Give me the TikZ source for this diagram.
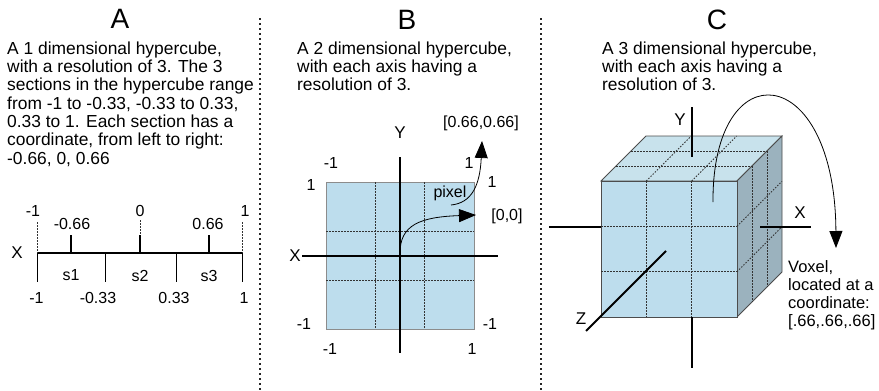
\documentclass[tikz,border=0pt]{standalone}
\usepackage{fontspec}
\setmainfont{Liberation Sans}
\usetikzlibrary{arrows.meta}
\definecolor{faceblue}{RGB}{189,221,237}
\definecolor{topblue}{RGB}{200,226,236}
\definecolor{sideblue}{RGB}{155,178,190}

\begin{document}
\begin{tikzpicture}[x=1pt,y=-1pt,
  ttl/.style={font=\fontsize{28}{28}\selectfont,inner sep=0pt,anchor=base},
  txt/.style={font=\fontsize{17.4}{18.3}\selectfont,align=left,anchor=north west,inner sep=0pt},
  lbl/.style={font=\fontsize{16}{16}\selectfont,inner sep=0pt},
  axlbl/.style={font=\fontsize{17}{17}\selectfont,inner sep=0pt},
  axisline/.style={line width=2pt},
  sep/.style={draw=black!85,line width=2.5pt,dash pattern=on 2pt off 3pt},
  gridln/.style={draw=black!80,line width=.8pt,dash pattern=on 1.5pt off 1.5pt},
  cubeedge/.style={draw=black!70,line width=.8pt},
  tip/.style={-{Triangle[length=17pt,width=13pt]}}
]
\useasboundingbox (0,0) rectangle (879,391);
% separators
\draw[sep] (260,18) -- (260,391);
\draw[sep] (541,18) -- (541,391);

% A: one axis
\node[ttl] (ta) at (120,28.5) {A};
\node[txt] (da) at (7,41.5) {A 1 dimensional hypercube,\\with a resolution of 3. The 3\\sections in the hypercube range\\from -1 to -0.33, -0.33 to 0.33,\\0.33 to 1. Each section has a\\coordinate, from left to right:\\-0.66, 0, 0.66};
\node[axlbl] (xa) at (17,253) {X};
\draw[axisline] (37,253) -- (242,253);
\foreach \x in {71,140,209} \draw[axisline] (\x,235) -- (\x,253);
\draw[gridln] (37,222) -- (37,253) (242,222) -- (242,253) (140,220) -- (140,235);
\foreach \x in {37,105,176,242} \draw[line width=.8pt] (\x,253) -- (\x,282);
\node[lbl] (am1) at (33,211) {-1};
\node[lbl] (a0) at (140,211) {0};
\node[lbl] (ap1) at (245,211) {1};
\node[lbl] (am66) at (72,223.5) {-0.66};
\node[lbl] (ap66) at (208,223.5) {0.66};
\foreach \x/\s in {71/s1,140/s2,209/s3} \node[lbl] (\s) at (\x,275.5) {\s};
\foreach \x/\v [count=\i] in {36.5/-1,98/-0.33,174/0.33,244/1} \node[lbl] (b\i) at (\x,298) {\v};

% B: two axes
\node[ttl] (tb) at (407,29) {B};
\node[txt] (db) at (297,41.5) {A 2 dimensional hypercube,\\with each axis having a\\resolution of 3.};
\draw[draw=black!45,fill=faceblue,line width=.8pt] (326,182) rectangle (474,329);
\foreach \x in {375,424} \draw[gridln] (\x,182) -- (\x,329);
\foreach \y in {231,280} \draw[gridln] (326,\y) -- (474,\y);
\draw[axisline] (302,256) -- (498,256);
\draw[axisline] (400,157) -- (400,353);
\node[axlbl] (xb) at (295,256) {X};
\node[axlbl] (yb) at (400,133) {Y};
\node[lbl] (c1) at (331,163) {-1};
\node[lbl] (c2) at (469,163) {1};
\node[lbl] (c3) at (311,185) {1};
\node[lbl] (c4) at (492,182) {1};
\node[lbl] (c5) at (304,324) {-1};
\node[lbl] (c6) at (490,324) {-1};
\node[lbl] (c7) at (330,349) {-1};
\node[lbl] (c8) at (472,349) {1};
\node[lbl] (pix) at (450,193) {pixel};
\node[lbl] (p66) at (481,123) {[0.66,0.66]};
\node[lbl] (p00) at (507,216) {[0,0]};
\coordinate (pxs) at (451,205);
\coordinate (pxt) at (482,141);
\coordinate (orig) at (400,253);
\coordinate (ort) at (476,215);
\draw[line width=.8pt,tip] (pxs) .. controls (472,203) and (480,185) .. (pxt);
\draw[line width=.8pt,tip] (orig) .. controls (400,225) and (420,217) .. (ort);

% C: three axes
\node[ttl] (tc) at (717,29) {C};
\node[txt] (dc) at (602,41.5) {A 3 dimensional hypercube,\\with each axis having a\\resolution of 3.};
\draw[axisline] (692,107) -- (692,157);
\draw[cubeedge,fill=topblue] (601,181) -- (737,181) -- (782,136) -- (646,136) -- cycle;
\draw[cubeedge,fill=sideblue] (737,181) -- (782,136) -- (782,272) -- (737,317) -- cycle;
\draw[cubeedge,fill=faceblue] (601,181) rectangle (737,317);
\foreach \x in {646.3,691.7} \draw[gridln] (\x,181) -- (\x,317);
\foreach \y in {226.3,271.7} \draw[gridln] (601,\y) -- (737,\y);
\draw[gridln] (616,166) -- (752,166) (631,151) -- (767,151);
\draw[gridln] (646.3,181) -- (691.3,136) (691.7,181) -- (736.7,136);
\draw[gridln] (752,166) -- (752,302) (767,151) -- (767,287);
\draw[gridln] (737,226.3) -- (782,181.3) (737,271.7) -- (782,226.7);
\draw[axisline] (692,107) -- (692,157);
\draw[axisline] (692,317) -- (692,368);
\draw[axisline] (549,227) -- (601,227);
\draw[axisline] (760,227) -- (811,227);
\draw[axisline] (666,251) -- (586,331);
\node[axlbl] (yc) at (680,120) {Y};
\node[axlbl] (xc) at (800,213) {X};
\node[axlbl] (zc) at (581,319) {Z};
\coordinate (vs) at (713,202);
\coordinate (vt) at (836,248);
\draw[line width=.8pt,tip] (vs) .. controls (712,50) and (835,60) .. (vt);
\node[txt,font=\fontsize{16.5}{18}\selectfont] (vox) at (788,260) {Voxel,\\located at a\\coordinate:\\{[.66,.66,.66]}};
\end{tikzpicture}
\end{document}
